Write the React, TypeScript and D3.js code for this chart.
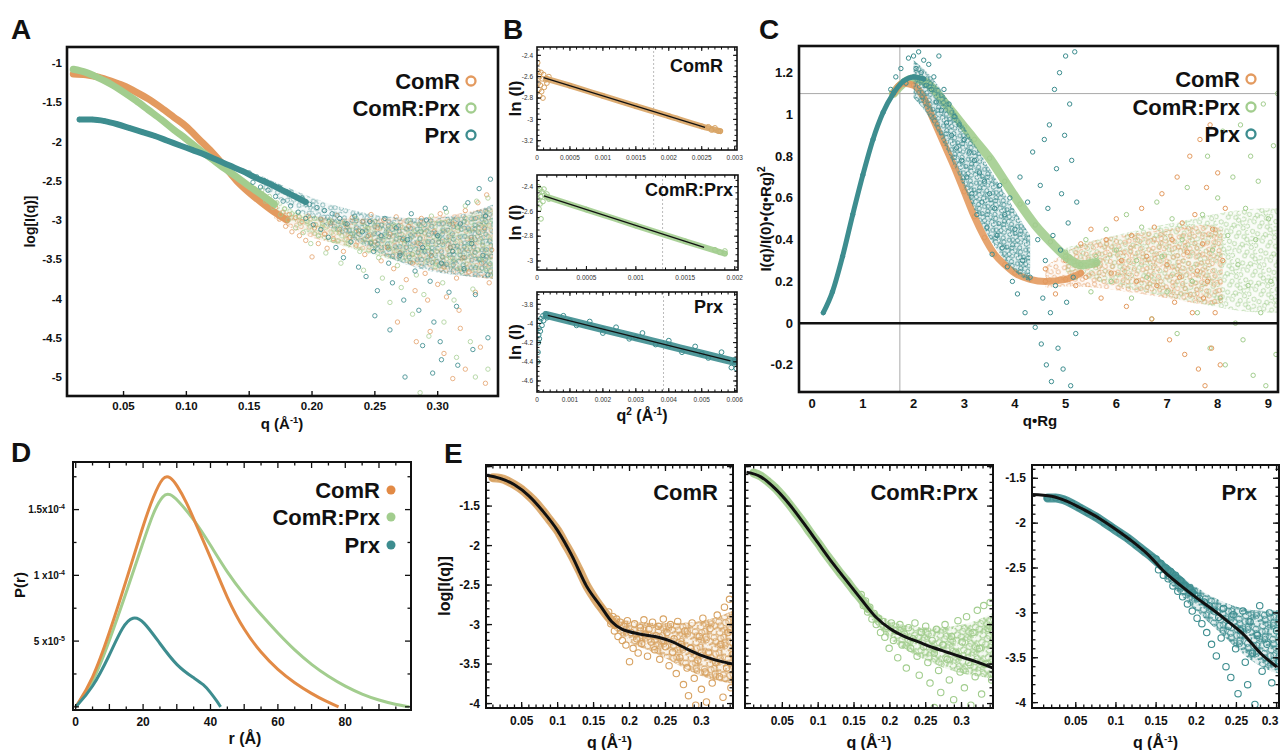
import React from "react";
import * as d3 from "d3";

type Pt = [number, number];

const FONT = "'Liberation Sans', Arial, Helvetica, sans-serif";
const ORANGE = "#E39A5F";
const DORANGE = "#E28A45";
const TAN = "#D8A363";
const GREEN = "#A2CD8E";
const TEAL = "#3D8D8F";

// ---------- data: log I(q) vs q (panels A and E) ----------
const seriesNames = ["ComR", "ComR:Prx", "Prx"];

// dense low-q part of each scattering curve
const comRBand: Pt[] = [[0.010,-1.14],[0.020,-1.15],[0.030,-1.18],[0.040,-1.23],[0.050,-1.29],[0.060,-1.37],[0.070,-1.46],[0.080,-1.57],[0.090,-1.69],[0.100,-1.81],[0.110,-1.97],[0.120,-2.13],[0.130,-2.31],[0.140,-2.50],[0.150,-2.65],[0.160,-2.78],[0.170,-2.90],[0.180,-3.00]];
const comPrxBand: Pt[] = [[0.010,-1.08],[0.020,-1.12],[0.030,-1.19],[0.040,-1.27],[0.050,-1.37],[0.060,-1.48],[0.070,-1.60],[0.080,-1.72],[0.090,-1.85],[0.100,-1.97],[0.110,-2.10],[0.120,-2.22],[0.130,-2.34],[0.140,-2.45],[0.150,-2.57],[0.160,-2.68],[0.170,-2.80]];
const prxBand: Pt[] = [[0.015,-1.72],[0.025,-1.72],[0.035,-1.74],[0.045,-1.78],[0.055,-1.83],[0.065,-1.88],[0.075,-1.93],[0.085,-1.99],[0.095,-2.05],[0.105,-2.11],[0.115,-2.17],[0.125,-2.24],[0.135,-2.31],[0.145,-2.38],[0.155,-2.46],[0.165,-2.53],[0.175,-2.61],[0.185,-2.69],[0.195,-2.77]];

// noisy high-q points
const comRPts: Pt[] = [[0.171,-2.84],[0.174,-2.99],[0.177,-2.90],[0.179,-3.08],[0.182,-2.93],[0.184,-3.15],[0.187,-2.97],[0.190,-3.20],[0.192,-3.02],[0.195,-3.26],[0.197,-2.95],[0.200,-3.47],[0.202,-3.10],[0.205,-3.30],[0.207,-2.99],[0.210,-3.18],[0.212,-3.36],[0.215,-3.04],[0.217,-3.24],[0.220,-2.94],[0.222,-3.12],[0.225,-3.40],[0.227,-3.06],[0.230,-3.22],[0.232,-2.97],[0.235,-3.32],[0.237,-3.14],[0.240,-3.02],[0.242,-3.44],[0.245,-3.20],[0.247,-2.93],[0.250,-3.28],[0.252,-3.10],[0.255,-3.52],[0.257,-3.00],[0.260,-3.35],[0.262,-3.18],[0.265,-3.62],[0.267,-2.96],[0.270,-3.42],[0.272,-3.25],[0.275,-3.76],[0.277,-3.08],[0.280,-3.55],[0.282,-3.90],[0.285,-3.30],[0.287,-2.98],[0.290,-3.68],[0.292,-4.02],[0.295,-3.45],[0.297,-3.15],[0.300,-3.82],[0.302,-2.92],[0.305,-3.60],[0.307,-3.98],[0.310,-3.35],[0.312,-3.05],[0.315,-3.74],[0.317,-4.15],[0.320,-3.48],[0.322,-2.88],[0.325,-3.66],[0.327,-3.25],[0.330,-3.92],[0.332,-2.78],[0.335,-3.55],[0.337,-3.10],[0.339,-2.68],[0.341,-3.80],[0.343,-3.38],[0.268,-4.30],[0.283,-4.55],[0.294,-4.42],[0.305,-4.70],[0.318,-4.38],[0.322,-4.90],[0.334,-4.62],[0.338,-5.08],[0.312,-5.02]];
const comPrxPts: Pt[] = [[0.160,-2.62],[0.163,-2.76],[0.166,-2.70],[0.169,-2.84],[0.172,-2.78],[0.175,-2.93],[0.178,-2.86],[0.181,-3.00],[0.184,-2.92],[0.187,-3.10],[0.190,-2.96],[0.193,-3.16],[0.196,-3.02],[0.199,-3.30],[0.202,-2.98],[0.205,-3.20],[0.208,-3.08],[0.211,-3.42],[0.214,-3.00],[0.217,-3.26],[0.220,-3.12],[0.223,-3.55],[0.226,-3.04],[0.229,-3.30],[0.232,-3.18],[0.235,-2.98],[0.238,-3.40],[0.241,-3.64],[0.244,-3.10],[0.247,-3.28],[0.250,-3.02],[0.253,-3.48],[0.256,-3.74],[0.259,-3.20],[0.262,-3.36],[0.265,-3.06],[0.268,-3.58],[0.271,-3.86],[0.274,-3.26],[0.277,-3.00],[0.280,-3.44],[0.283,-3.70],[0.286,-3.15],[0.289,-3.95],[0.292,-3.35],[0.295,-2.95],[0.298,-3.60],[0.301,-3.22],[0.304,-3.80],[0.307,-2.90],[0.310,-3.48],[0.313,-4.02],[0.316,-3.10],[0.319,-3.66],[0.322,-2.82],[0.325,-3.30],[0.328,-3.88],[0.331,-2.76],[0.334,-3.50],[0.337,-3.05],[0.340,-2.72],[0.342,-3.70],[0.262,-4.05],[0.280,-4.20],[0.293,-4.48],[0.305,-4.30],[0.315,-4.75],[0.326,-4.55],[0.330,-5.00],[0.286,-5.20],[0.340,-4.90]];
const prxPts: Pt[] = [[0.150,-2.40],[0.153,-2.52],[0.156,-2.45],[0.159,-2.58],[0.162,-2.50],[0.165,-2.62],[0.168,-2.54],[0.171,-2.70],[0.174,-2.58],[0.177,-2.76],[0.180,-2.64],[0.183,-2.82],[0.186,-2.70],[0.189,-2.90],[0.192,-2.72],[0.195,-2.98],[0.198,-2.80],[0.201,-3.06],[0.204,-2.84],[0.207,-3.12],[0.210,-2.88],[0.213,-3.22],[0.216,-2.92],[0.219,-3.35],[0.222,-2.98],[0.225,-3.48],[0.228,-3.05],[0.231,-3.28],[0.234,-2.95],[0.237,-3.60],[0.240,-3.15],[0.243,-3.72],[0.246,-3.02],[0.249,-3.40],[0.252,-3.90],[0.255,-3.20],[0.258,-2.98],[0.261,-3.55],[0.264,-3.80],[0.267,-3.10],[0.270,-3.45],[0.273,-4.02],[0.276,-3.25],[0.279,-2.92],[0.282,-3.65],[0.285,-4.15],[0.288,-3.35],[0.291,-3.00],[0.294,-3.78],[0.297,-4.30],[0.300,-3.20],[0.303,-3.55],[0.306,-2.85],[0.309,-3.92],[0.312,-3.40],[0.315,-4.10],[0.318,-3.05],[0.321,-3.62],[0.324,-2.78],[0.327,-3.30],[0.330,-3.95],[0.333,-2.60],[0.336,-3.45],[0.338,-2.95],[0.340,-3.70],[0.342,-2.48],[0.250,-4.22],[0.262,-4.40],[0.274,-5.00],[0.288,-4.60],[0.303,-4.78],[0.302,-4.55],[0.316,-4.85],[0.328,-4.65],[0.296,-4.95],[0.340,-4.50]];

// dense cores of the high-q clouds (q, upper, lower)
const comRCoreQ = [0.17,0.185,0.2,0.225,0.25,0.275,0.3,0.325,0.344];
const comRCoreHi = [-2.86,-2.92,-2.96,-2.98,-2.98,-2.98,-2.96,-2.90,-2.82];
const comRCoreLo = [-2.98,-3.12,-3.24,-3.32,-3.42,-3.55,-3.66,-3.72,-3.75];
const comPrxCoreQ = [0.16,0.18,0.2,0.225,0.25,0.275,0.3,0.325,0.344];
const comPrxCoreHi = [-2.64,-2.84,-2.96,-3.02,-3.04,-3.04,-3.01,-2.94,-2.85];
const comPrxCoreLo = [-2.76,-3.0,-3.2,-3.34,-3.45,-3.55,-3.62,-3.66,-3.68];
const prxCoreQ = [0.16,0.18,0.2,0.225,0.25,0.275,0.3,0.325,0.344];
const prxCoreHi = [-2.44,-2.58,-2.72,-2.85,-2.94,-2.98,-2.98,-2.92,-2.80];
const prxCoreLo = [-2.60,-2.80,-2.98,-3.18,-3.40,-3.58,-3.68,-3.72,-3.75];

// model fits (panel E)
const comRFit: Pt[] = [[0,-1.11],[0.02,-1.15],[0.04,-1.23],[0.06,-1.37],[0.08,-1.57],[0.10,-1.81],[0.12,-2.13],[0.14,-2.51],[0.16,-2.77],[0.175,-2.96],[0.19,-3.06],[0.20,-3.09],[0.22,-3.13],[0.24,-3.16],[0.26,-3.22],[0.28,-3.31],[0.30,-3.39],[0.32,-3.45],[0.344,-3.50]];
const comPrxFit: Pt[] = [[0,-1.07],[0.02,-1.13],[0.04,-1.28],[0.06,-1.48],[0.08,-1.72],[0.10,-1.97],[0.12,-2.22],[0.14,-2.45],[0.16,-2.68],[0.18,-2.90],[0.20,-3.05],[0.22,-3.15],[0.24,-3.22],[0.26,-3.29],[0.28,-3.35],[0.30,-3.41],[0.32,-3.47],[0.344,-3.55]];
const prxFit: Pt[] = [[-0.005,-1.68],[0.02,-1.70],[0.04,-1.76],[0.06,-1.85],[0.08,-1.95],[0.10,-2.07],[0.12,-2.20],[0.14,-2.35],[0.16,-2.54],[0.18,-2.69],[0.20,-2.83],[0.22,-2.96],[0.24,-3.10],[0.26,-3.25],[0.28,-3.45],[0.30,-3.60]];

// ---------- Guinier plots (panel B): ln I vs q^2 ----------
const gComRBand: Pt[] = [[0.00015,-2.62],[0.0005,-2.685],[0.001,-2.78],[0.0015,-2.875],[0.002,-2.97],[0.0025,-3.065],[0.00278,-3.11]];
const gComRNoise: Pt[] = [[0.00001,-2.47],[0.00002,-2.55],[0.00002,-2.66],[0.00003,-2.72],[0.00004,-2.60],[0.00004,-2.78],[0.00005,-2.68],[0.00006,-2.56],[0.00007,-2.74],[0.00008,-2.62],[0.00009,-2.80],[0.0001,-2.58],[0.00011,-2.70],[0.00013,-2.63],[0.00015,-2.66],[0.00018,-2.60],[0.0026,-3.07],[0.00265,-3.10],[0.0027,-3.08],[0.00275,-3.11]];
const gComRFit: Pt[] = [[0.0001,-2.61],[0.00255,-3.075]];
const gComPrxBand: Pt[] = [[0.0001,-2.483],[0.0005,-2.585],[0.001,-2.714],[0.0015,-2.842],[0.0019,-2.94]];
const gComPrxNoise: Pt[] = [[0.00001,-2.40],[0.00001,-2.50],[0.00002,-2.45],[0.00002,-2.58],[0.00003,-2.42],[0.00003,-2.54],[0.00004,-2.48],[0.00004,-2.66],[0.00005,-2.44],[0.00006,-2.52],[0.00007,-2.42],[0.00008,-2.47],[0.0001,-2.46],[0.00012,-2.50],[0.0018,-2.91],[0.00185,-2.93],[0.0019,-2.92]];
const gComPrxFit: Pt[] = [[0.00007,-2.475],[0.00169,-2.891]];
const gPrxBand: Pt[] = [[0.0003,-3.913],[0.001,-3.973],[0.002,-4.058],[0.003,-4.144],[0.004,-4.23],[0.005,-4.316],[0.006,-4.40]];
const gPrxNoise: Pt[] = [[0.00002,-4.40],[0.00003,-4.30],[0.00004,-4.20],[0.00005,-4.12],[0.00006,-4.05],[0.00007,-4.16],[0.00008,-3.98],[0.0001,-4.08],[0.00012,-3.95],[0.00015,-4.02],[0.00018,-3.92],[0.0002,-3.97],[0.00025,-3.90],[0.0003,-3.94],[0.0008,-3.92],[0.0012,-4.02],[0.0016,-3.98],[0.002,-4.10],[0.0024,-4.04],[0.0028,-4.16],[0.0032,-4.10],[0.0036,-4.22],[0.004,-4.18],[0.0044,-4.30],[0.0048,-4.24],[0.0052,-4.36],[0.0056,-4.30],[0.0059,-4.46],[0.006,-4.38],[0.00605,-4.47]];
const gPrxFit: Pt[] = [[0.00033,-3.915],[0.00587,-4.39]];
const guinierLimits = [0.00177, 0.00127, 0.00384];

// ---------- dimensionless Kratky (panel C) ----------
const kPrxRise: Pt[] = [[0.22,0.05],[0.4,0.15],[0.6,0.32],[0.8,0.52],[1.0,0.71],[1.2,0.88],[1.4,1.01],[1.6,1.10],[1.8,1.16],[2.0,1.18],[2.2,1.17]];
const kComRBand: Pt[] = [[1.6,1.10],[1.8,1.15],[2.0,1.14],[2.2,1.08],[2.4,0.97],[2.6,0.86],[2.8,0.75],[3.0,0.63],[3.2,0.51],[3.4,0.41],[3.6,0.33],[3.8,0.28],[4.0,0.24],[4.3,0.21],[4.6,0.20],[5.0,0.21],[5.3,0.24]];
const kComPrxBand: Pt[] = [[1.6,1.10],[1.8,1.15],[2.0,1.17],[2.2,1.16],[2.4,1.12],[2.6,1.06],[2.8,1.00],[3.0,0.94],[3.2,0.88],[3.5,0.79],[3.8,0.68],[4.1,0.57],[4.4,0.47],[4.7,0.39],[5.0,0.32],[5.3,0.28],[5.6,0.29]];
const kPrxPts: Pt[] = [[1.55,1.12],[1.65,1.18],[1.75,1.22],[1.85,1.15],[1.9,1.27],[2.00,1.28],[2.05,1.22],[2.10,1.30],[2.15,1.20],[2.20,1.26],[2.25,1.14],[2.30,1.24],[2.35,1.12],[2.40,1.18],[2.45,1.06],[2.50,1.28],[2.55,1.02],[2.60,1.12],[2.65,0.96],[2.70,1.05],[2.75,0.90],[2.80,0.99],[2.85,0.84],[2.90,0.95],[2.95,0.78],[3.00,0.88],[3.05,0.70],[3.10,0.82],[3.15,0.62],[3.20,0.78],[3.25,0.52],[3.30,0.72],[3.35,0.58],[3.40,0.68],[3.45,0.46],[3.50,0.62],[3.55,0.33],[3.60,0.55],[3.65,0.42],[3.70,0.66],[3.75,0.36],[3.80,0.52],[3.85,0.27],[3.90,0.60],[3.95,0.20],[4.00,0.45],[4.05,0.14],[4.10,0.70],[4.15,0.30],[4.20,0.05],[4.25,0.58],[4.30,0.22],[4.35,0.82],[4.40,-0.02],[4.45,0.40],[4.50,0.66],[4.52,-0.10],[4.55,0.12],[4.58,0.88],[4.60,0.30],[4.62,-0.20],[4.65,0.55],[4.68,0.95],[4.70,0.05],[4.72,-0.28],[4.75,0.42],[4.78,1.12],[4.80,0.18],[4.82,0.74],[4.85,-0.12],[4.88,1.20],[4.90,0.35],[4.92,0.62],[4.95,-0.22],[4.98,0.90],[5.00,1.28],[5.02,0.10],[5.05,0.48],[5.08,1.05],[5.10,-0.30],[5.12,0.78],[5.15,0.22],[5.18,1.30],[5.20,-0.05],[5.22,0.58]];
const kComRPts: Pt[] = [[4.6,0.26],[4.8,0.14],[5.0,0.30],[5.2,0.18],[5.3,0.38],[5.4,0.22],[5.5,0.45],[5.6,0.28],[5.7,0.12],[5.8,0.40],[5.9,0.24],[6.0,0.50],[6.1,0.30],[6.2,0.08],[6.3,0.42],[6.4,0.20],[6.5,0.55],[6.6,0.32],[6.7,0.02],[6.75,0.46],[6.8,0.18],[6.9,0.62],[7.0,0.28],[7.05,-0.08],[7.1,0.40],[7.15,0.10],[7.2,0.70],[7.25,0.22],[7.3,0.48],[7.35,-0.15],[7.4,0.34],[7.45,0.80],[7.5,0.05],[7.55,0.52],[7.6,0.25],[7.62,-0.22],[7.65,0.88],[7.7,0.38],[7.72,0.12],[7.75,-0.30],[7.78,0.65],[7.8,0.20],[7.85,0.95],[7.88,-0.12],[7.9,0.45],[7.95,0.05],[8.0,0.72],[8.05,-0.20],[8.1,0.30],[8.15,0.55]];
const kComPrxPts: Pt[] = [[5.0,0.34],[5.2,0.22],[5.4,0.40],[5.5,0.15],[5.6,0.32],[5.8,0.45],[5.9,0.20],[6.0,0.35],[6.2,0.52],[6.3,0.12],[6.4,0.30],[6.5,0.46],[6.6,0.22],[6.7,0.02],[6.8,0.58],[6.9,0.32],[7.0,0.15],[7.1,0.50],[7.2,-0.05],[7.3,0.40],[7.4,0.65],[7.5,0.20],[7.6,0.05],[7.7,0.52],[7.8,0.80],[7.85,-0.12],[7.9,0.35],[8.0,0.60],[8.05,0.12],[8.1,0.92],[8.15,-0.20],[8.2,0.42],[8.3,0.70],[8.35,0.00],[8.4,0.28],[8.45,0.95],[8.5,-0.08],[8.55,0.55],[8.6,0.18],[8.65,0.80],[8.7,-0.25],[8.75,0.40],[8.8,0.68],[8.85,0.05],[8.9,1.05],[8.95,-0.30],[9.0,0.50],[9.05,0.20],[9.1,0.85],[9.15,-0.15],[9.18,1.10]];
const kPrxCoreU = [2.0,2.3,2.6,2.9,3.2,3.5,3.8,4.1,4.3];
const kPrxCoreHi = [1.26,1.20,1.10,0.98,0.86,0.74,0.62,0.50,0.42];
const kPrxCoreLo = [1.08,1.00,0.86,0.70,0.54,0.40,0.30,0.22,0.20];
const kComRCoreU = [4.6,5.2,6.0,7.0,7.8,8.1];
const kComRCoreHi = [0.27,0.38,0.42,0.45,0.48,0.45];
const kComRCoreLo = [0.17,0.18,0.16,0.12,0.08,0.10];
const kComPrxCoreU = [5.0,5.6,6.5,7.5,8.5,9.2];
const kComPrxCoreHi = [0.36,0.40,0.45,0.50,0.55,0.55];
const kComPrxCoreLo = [0.24,0.20,0.15,0.10,0.05,0.05];
const guinierPeak: Pt = [1.73, 1.1];

// ---------- pair distance distribution (panel D), P(r) in 1e-5 ----------
const prComR: Pt[] = [[0,0],[5,2.0],[10,5.6],[15,9.6],[20,13.8],[23,16.0],[26,17.6],[28,17.5],[30,16.9],[33,15.5],[35,14.3],[40,11.4],[45,8.2],[50,5.8],[55,4.1],[60,2.8],[65,1.8],[70,1.0],[74,0.45],[78,0]];
const prComPrx: Pt[] = [[0,0],[5,1.7],[10,5.0],[15,8.7],[20,12.5],[23,14.8],[26,16.2],[28,16.2],[30,15.8],[35,14.3],[40,12.3],[45,10.2],[50,8.5],[55,7.0],[60,5.6],[65,4.3],[70,3.2],[75,2.3],[80,1.55],[85,0.95],[90,0.5],[95,0.18],[99,0]];
const prPrx: Pt[] = [[0,0],[5,1.4],[10,3.9],[14,6.2],[17,6.9],[20,6.6],[25,4.8],[30,3.1],[35,2.2],[38,1.7],[40,1.1],[42,0.4],[43,0]];

// ---------- tick labels ----------
const aXTicks = [0.05, 0.1, 0.15, 0.2, 0.25, 0.3];
const aYTicks = [-1, -1.5, -2, -2.5, -3, -3.5, -4, -4.5, -5];
const b1XTicks = ["0","0.0005","0.001","0.0015","0.002","0.0025","0.003"];
const b2XTicks = ["0","0.0005","0.001","0.0015","0.002"];
const b3XTicks = ["0","0.001","0.002","0.003","0.004","0.005","0.006"];
const b1YTicks = [-2.4, -2.6, -2.8, -3, -3.2];
const b2YTicks = [-2.4, -2.6, -2.8, -3];
const b3YTicks = [-3.8, -4, -4.2, -4.4, -4.6];
const cXTicks = [0, 1, 2, 3, 4, 5, 6, 7, 8, 9];
const cYTicks = [-0.2, 0, 0.2, 0.4, 0.6, 0.8, 1, 1.2];
const dXTicks = [0, 20, 40, 60, 80];
const dYTicks: [number, string, string][] = [[5, "5 x10", "-5"], [10, "1 x10", "-4"], [15, "1.5x10", "-4"]];
const eXTicks = ["0.05", "0.1", "0.15", "0.2", "0.25", "0.3"];
const eYTicks = [-1.5, -2, -2.5, -3, -3.5, -4];

type Box = { l: number; t: number; r: number; b: number };

// texture of overlapping open circles, used to fill the dense part of a cloud
const texture: Pt[] = [[1.5,2.5],[9,1],[15.5,5],[21,2.5],[4,9],[12,7.5],[18.5,10.5],[23,8],[1,15],[7.5,13],[14,16.5],[20,14],[5.5,19],[11,18.5],[17,19.5],[22.5,18]];
function CirclePattern({ id, color, s, r, sw, op, rot }: { id: string; color: string; s: number; r: number; sw: number; op: number; rot: number }) {
  return (
    <pattern id={id} width={24 * s} height={20 * s} patternUnits="userSpaceOnUse" patternTransform={`rotate(${rot})`}>
      {texture.map((p, i) => <circle key={i} cx={p[0] * s} cy={p[1] * s} r={r} fill="none" stroke={color} strokeWidth={sw} opacity={op} />)}
    </pattern>
  );
}

function Dots({ pts, x, y, color, r, sw = 1, op = 1 }: any) {
  return (
    <g fill="none" stroke={color} strokeWidth={sw} opacity={op}>
      {pts.map((p: Pt, i: number) => <circle key={i} cx={x(p[0])} cy={y(p[1])} r={r} />)}
    </g>
  );
}

function Band({ pts, x, y, color, w, op = 1 }: any) {
  const g = d3.line<Pt>().x(d => x(d[0])).y(d => y(d[1])).curve(d3.curveMonotoneX);
  return <path d={g(pts) || ""} fill="none" stroke={color} strokeWidth={w} strokeLinecap="round" strokeLinejoin="round" opacity={op} />;
}

function Core({ u, hi, lo, x, y, color, pat, op }: any) {
  const g = d3.area<number>().x((_, i) => x(u[i])).y0((_, i) => y(lo[i])).y1((_, i) => y(hi[i])).curve(d3.curveBasis);
  const d = g(u) || "";
  return (
    <g>
      <path d={d} fill={color} opacity={op} />
      <path d={d} fill={`url(#${pat})`} />
    </g>
  );
}

function Ticks({ box, x, y, xMaj = [], xMin = [], yMaj = [], yMin = [], sides, maj = 6, min = 3, w = 1.2 }: any) {
  const segs: number[][] = [];
  const add = (vals: number[], len: number, isX: boolean) => {
    vals.forEach(v => {
      if (isX) {
        const px = x(v);
        if (px < box.l + 1 || px > box.r - 1) return;
        if (sides.includes("b")) segs.push([px, box.b, px, box.b - len]);
        if (sides.includes("t")) segs.push([px, box.t, px, box.t + len]);
      } else {
        const py = y(v);
        if (py < box.t + 1 || py > box.b - 1) return;
        if (sides.includes("l")) segs.push([box.l, py, box.l + len, py]);
        if (sides.includes("r")) segs.push([box.r, py, box.r - len, py]);
      }
    });
  };
  add(xMaj, maj, true); add(xMin, min, true); add(yMaj, maj, false); add(yMin, min, false);
  return <g stroke="#111" strokeWidth={w}>{segs.map((s, i) => <line key={i} x1={s[0]} y1={s[1]} x2={s[2]} y2={s[3]} />)}</g>;
}

function Frame({ box, w = 2 }: { box: Box; w?: number }) {
  return <rect x={box.l} y={box.t} width={box.r - box.l} height={box.b - box.t} fill="none" stroke="#111" strokeWidth={w} />;
}

function Clip({ id, box }: { id: string; box: Box }) {
  return <clipPath id={id}><rect x={box.l} y={box.t} width={box.r - box.l} height={box.b - box.t} /></clipPath>;
}

function QTitle({ x, y, size }: { x: number; y: number; size: number }) {
  return (
    <text x={x} y={y} textAnchor="middle" fontSize={size} fontWeight="bold">
      q (Å<tspan fontSize={size * 0.62} dy={-size * 0.38}>-1</tspan><tspan dy={size * 0.38}>)</tspan>
    </text>
  );
}

function Legend({ xr, cy, colors, filled }: { xr: number; cy: number[]; colors: string[]; filled: boolean }) {
  return (
    <g>
      {seriesNames.map((s, i) => (
        <g key={s}>
          <text x={xr} y={cy[i] + 8} textAnchor="end" fontSize={22} fontWeight="bold">{s}</text>
          {filled
            ? <circle cx={xr + 11} cy={cy[i]} r={4.5} fill={colors[i]} />
            : <circle cx={xr + 11} cy={cy[i]} r={4.5} fill="none" stroke={colors[i]} strokeWidth={2.3} />}
        </g>
      ))}
    </g>
  );
}

export default function App() {
  // ---------------- panel A ----------------
  const boxA: Box = { l: 67, t: 47, r: 498, b: 396 };
  const ax = d3.scaleLinear().domain([0.005, 0.348]).range([boxA.l, boxA.r]);
  const ay = d3.scaleLinear().domain([-5.242, -0.796]).range([boxA.b, boxA.t]);

  // ---------------- panel B ----------------
  const bPanels = [
    { box: { l: 537, t: 47, r: 737, b: 150 }, xd: [0, 0.003035], yd: [-3.287, -2.322], band: gComRBand, noise: gComRNoise, fit: gComRFit, color: TAN, title: "ComR", tx: 723, ty: 72, xt: b1XTicks, yt: b1YTicks, xStep: 0.0001, lim: guinierLimits[0] },
    { box: { l: 537, t: 175, r: 738, b: 270 }, xd: [0, 0.002033], yd: [-3.073, -2.306], band: gComPrxBand, noise: gComPrxNoise, fit: gComPrxFit, color: GREEN, title: "ComR:Prx", tx: 733, ty: 196, xt: b2XTicks, yt: b2YTicks, xStep: 0.0001, lim: guinierLimits[1] },
    { box: { l: 537, t: 292, r: 737, b: 392 }, xd: [0, 0.00607], yd: [-4.715, -3.672], band: gPrxBand, noise: gPrxNoise, fit: gPrxFit, color: TEAL, title: "Prx", tx: 723, ty: 313, xt: b3XTicks, yt: b3YTicks, xStep: 0.0002, lim: guinierLimits[2] },
  ];

  // ---------------- panel C ----------------
  const boxC: Box = { l: 799, t: 46, r: 1278, b: 392 };
  const cx = d3.scaleLinear().domain([-0.26, 9.19]).range([boxC.l, boxC.r]);
  const cy = d3.scaleLinear().domain([-0.33, 1.328]).range([boxC.b, boxC.t]);

  // ---------------- panel D ----------------
  const boxD: Box = { l: 73, t: 462, r: 411, b: 710 };
  const dx = d3.scaleLinear().domain([-0.8, 99.5]).range([boxD.l, boxD.r]);
  const dy = d3.scaleLinear().domain([-0.24, 18.62]).range([boxD.b, boxD.t]);
  const prLine = d3.line<Pt>().x(d => dx(d[0])).y(d => dy(d[1])).curve(d3.curveBasis);

  // ---------------- panel E ----------------
  const ePanels = [
    { box: { l: 486, t: 465, r: 733, b: 708 }, xd: [0.0004, 0.3439], yd: [-4.056, -0.98], band: comRBand, pts: comRPts, core: [comRCoreQ, comRCoreHi, comRCoreLo], fit: comRFit, color: TAN, pat: "pTanE", title: "ComR", tx: 718, labels: true },
    { box: { l: 745, t: 465, r: 993, b: 708 }, xd: [-0.0021, 0.3439], yd: [-4.056, -0.98], band: comPrxBand, pts: comPrxPts, core: [comPrxCoreQ, comPrxCoreHi, comPrxCoreLo], fit: comPrxFit, color: GREEN, pat: "pGreenE", title: "ComR:Prx", tx: 978, labels: false },
    { box: { l: 1032, t: 465, r: 1279, b: 708 }, xd: [-0.0045, 0.303], yd: [-4.06, -1.352], band: prxBand, pts: prxPts, core: [prxCoreQ, prxCoreHi, prxCoreLo], fit: prxFit, color: TEAL, pat: "pTealE", title: "Prx", tx: 1257, labels: true },
  ];

  return (
    <svg width={1282} height={750} style={{ position: "absolute", left: 0, top: 0, background: "#fff" }} fontFamily={FONT} fill="#111">
      <defs>
        <Clip id="clipA" box={boxA} />
        <Clip id="clipC" box={boxC} />
        <Clip id="clipD" box={boxD} />
        {bPanels.map((p, i) => <Clip key={i} id={"clipB" + i} box={p.box} />)}
        {ePanels.map((p, i) => <Clip key={i} id={"clipE" + i} box={p.box} />)}
        <CirclePattern id="pOrange" color={ORANGE} s={1.05} r={2.1} sw={0.9} op={0.75} rot={17} />
        <CirclePattern id="pGreen" color={GREEN} s={1.05} r={2.1} sw={0.9} op={0.8} rot={-23} />
        <CirclePattern id="pTeal" color={TEAL} s={1.05} r={2.1} sw={0.9} op={0.7} rot={31} />
        <CirclePattern id="pTealC" color={TEAL} s={0.8} r={2.1} sw={0.95} op={0.95} rot={31} />
        <CirclePattern id="pTanE" color={TAN} s={0.82} r={3} sw={1} op={0.9} rot={17} />
        <CirclePattern id="pGreenE" color={GREEN} s={0.82} r={3} sw={1} op={0.9} rot={-23} />
        <CirclePattern id="pTealE" color={TEAL} s={0.82} r={3} sw={1} op={0.9} rot={31} />
      </defs>

      {/* panel letters */}
      <g fontSize={28} fontWeight="bold">
        <text x={11} y={39}>A</text>
        <text x={503} y={39}>B</text>
        <text x={759} y={39}>C</text>
        <text x={11} y={462}>D</text>
        <text x={444} y={463}>E</text>
      </g>

      {/* ================= A ================= */}
      <g clipPath="url(#clipA)">
        <Core u={comRCoreQ} hi={comRCoreHi} lo={comRCoreLo} x={ax} y={ay} color={ORANGE} pat="pOrange" op={0.06} />
        <Core u={comPrxCoreQ} hi={comPrxCoreHi} lo={comPrxCoreLo} x={ax} y={ay} color={GREEN} pat="pGreen" op={0.06} />
        <Band pts={comRBand} x={ax} y={ay} color={ORANGE} w={7} />
        <Dots pts={comRPts} x={ax} y={ay} color={ORANGE} r={2.2} op={0.75} />
        <Band pts={comPrxBand} x={ax} y={ay} color={GREEN} w={7} />
        <Dots pts={comPrxPts} x={ax} y={ay} color={GREEN} r={2.2} op={0.75} />
        <Core u={prxCoreQ} hi={prxCoreHi} lo={prxCoreLo} x={ax} y={ay} color={TEAL} pat="pTeal" op={0.05} />
        <Band pts={prxBand} x={ax} y={ay} color={TEAL} w={6} />
        <Dots pts={prxBand} x={ax} y={ay} color={TEAL} r={2.2} />
        <Dots pts={prxPts} x={ax} y={ay} color={TEAL} r={2.2} op={0.85} />
      </g>
      <Frame box={boxA} w={2.6} />
      <Ticks box={boxA} x={ax} y={ay} xMaj={aXTicks} sides="b" maj={5} w={1.4} />
      <g fontSize={11.5} fontWeight="bold">
        {aYTicks.map(v => <text key={v} x={62} y={ay(v)} dy="0.35em" textAnchor="end">{v}</text>)}
        {aXTicks.map(v => <text key={v} x={ax(v)} y={410} textAnchor="middle">{v.toFixed(2)}</text>)}
      </g>
      <text transform={`translate(35,${(boxA.t + boxA.b) / 2}) rotate(-90)`} textAnchor="middle" fontSize={14} fontWeight="bold">log[I(q)]</text>
      <QTitle x={282} y={429} size={15} />
      <Legend xr={460} cy={[81, 108, 135]} colors={[ORANGE, GREEN, TEAL]} filled={false} />

      {/* ================= B ================= */}
      {bPanels.map((p, i) => {
        const x = d3.scaleLinear().domain(p.xd).range([p.box.l, p.box.r]);
        const y = d3.scaleLinear().domain(p.yd).range([p.box.b, p.box.t]);
        const xMaj = p.xt.map(Number);
        const xMin = d3.range(0, p.xd[1], p.xStep);
        const yMin = d3.range(Math.ceil(p.yd[0] * 20) / 20, p.yd[1], 0.05);
        const fitLine = d3.line<Pt>().x(d => x(d[0])).y(d => y(d[1]));
        return (
          <g key={i}>
            <g clipPath={`url(#clipB${i})`}>
              <line x1={x(p.lim)} x2={x(p.lim)} y1={p.box.t} y2={p.box.b} stroke="#bbb" strokeWidth={1} strokeDasharray="2,2" />
              <Band pts={p.band} x={x} y={y} color={p.color} w={i === 2 ? 8 : 6} op={0.9} />
              <Dots pts={p.band} x={x} y={y} color={p.color} r={2.4} />
              <Dots pts={p.noise} x={x} y={y} color={p.color} r={2.4} />
              <path d={fitLine(p.fit) || ""} stroke="#111" strokeWidth={1.3} fill="none" />
            </g>
            <Frame box={p.box} w={1.6} />
            <Ticks box={p.box} x={x} y={y} xMaj={xMaj} xMin={xMin} yMaj={p.yt} yMin={yMin} sides="tblr" maj={4} min={2.5} w={1} />
            <text x={p.tx} y={p.ty} textAnchor="end" fontSize={18} fontWeight="bold">{p.title}</text>
            <g fontSize={6.5} fill="#333">
              {p.yt.map(v => <text key={v} x={p.box.l - 4} y={y(v)} dy="0.35em" textAnchor="end">{v}</text>)}
              {p.xt.map(v => <text key={v} x={x(Number(v))} y={p.box.b + 10} textAnchor="middle">{v}</text>)}
            </g>
            <text transform={`translate(521,${(p.box.t + p.box.b) / 2}) rotate(-90)`} textAnchor="middle" fontSize={17} fontWeight="bold">ln (I)</text>
          </g>
        );
      })}
      <text x={642} y={421} textAnchor="middle" fontSize={16} fontWeight="bold">
        q<tspan fontSize={10} dy={-6}>2</tspan><tspan dy={6}> (Å</tspan><tspan fontSize={10} dy={-6}>-1</tspan><tspan dy={6}>)</tspan>
      </text>

      {/* ================= C ================= */}
      <g clipPath="url(#clipC)">
        <line x1={boxC.l} x2={boxC.r} y1={cy(guinierPeak[1])} y2={cy(guinierPeak[1])} stroke="#aaa" strokeWidth={1} />
        <line x1={cx(guinierPeak[0])} x2={cx(guinierPeak[0])} y1={boxC.t} y2={boxC.b} stroke="#aaa" strokeWidth={1} />
        <Core u={kComPrxCoreU} hi={kComPrxCoreHi} lo={kComPrxCoreLo} x={cx} y={cy} color={GREEN} pat="pGreen" op={0.06} />
        <Core u={kComRCoreU} hi={kComRCoreHi} lo={kComRCoreLo} x={cx} y={cy} color={ORANGE} pat="pOrange" op={0.05} />
        <Dots pts={kComPrxPts} x={cx} y={cy} color={GREEN} r={2.2} />
        <Dots pts={kComRPts} x={cx} y={cy} color={ORANGE} r={2.2} />
        <Band pts={kComPrxBand} x={cx} y={cy} color={GREEN} w={9} op={0.9} />
        <Dots pts={kComPrxBand} x={cx} y={cy} color={GREEN} r={2.2} />
        <Band pts={kComRBand} x={cx} y={cy} color={ORANGE} w={7} op={0.9} />
        <Dots pts={kComRBand} x={cx} y={cy} color={ORANGE} r={2.2} />
        <Core u={kPrxCoreU} hi={kPrxCoreHi} lo={kPrxCoreLo} x={cx} y={cy} color={TEAL} pat="pTealC" op={0.12} />
        <Dots pts={kPrxPts} x={cx} y={cy} color={TEAL} r={2.2} />
        <Band pts={kPrxRise} x={cx} y={cy} color={TEAL} w={5} />
        <Dots pts={kPrxRise} x={cx} y={cy} color={TEAL} r={2.2} />
        <line x1={boxC.l} x2={boxC.r} y1={cy(0)} y2={cy(0)} stroke="#111" strokeWidth={2.5} />
      </g>
      <Frame box={boxC} w={2.6} />
      <g fontSize={13} fontWeight="bold">
        {cYTicks.map(v => <text key={v} x={793} y={cy(v)} dy="0.35em" textAnchor="end">{v}</text>)}
        {cXTicks.map(v => <text key={v} x={cx(v)} y={408} textAnchor="middle">{v}</text>)}
      </g>
      <text x={1040} y={426} textAnchor="middle" fontSize={15} fontWeight="bold">q•Rg</text>
      <text transform={`translate(771,${(boxC.t + boxC.b) / 2}) rotate(-90)`} textAnchor="middle" fontSize={15} fontWeight="bold">
        I(q)/I(0)•(q•Rg)<tspan fontSize={10} dy={-6}>2</tspan>
      </text>
      <Legend xr={1240} cy={[79, 107, 134]} colors={[ORANGE, GREEN, TEAL]} filled={false} />

      {/* ================= D ================= */}
      <g clipPath="url(#clipD)" fill="none" strokeWidth={3}>
        <path d={prLine(prComPrx) || ""} stroke={GREEN} />
        <path d={prLine(prComR) || ""} stroke={DORANGE} />
        <path d={prLine(prPrx) || ""} stroke={TEAL} />
      </g>
      <Frame box={boxD} w={2} />
      <Ticks box={boxD} x={dx} y={dy} xMaj={d3.range(0, 100, 10)} xMin={d3.range(5, 100, 10)} yMaj={d3.range(0, 19, 5)} yMin={d3.range(2.5, 19, 5)} sides="tblr" maj={6} min={3.5} w={1.3} />
      <g fontSize={10} fontWeight="bold">
        {dYTicks.map(t => (
          <text key={t[0]} x={65} y={dy(t[0])} dy="0.35em" textAnchor="end">
            {t[1]}<tspan fontSize={7} dy={-4}>{t[2]}</tspan>
          </text>
        ))}
      </g>
      <g fontSize={12} fontWeight="bold">
        {dXTicks.map(v => <text key={v} x={dx(v)} y={726} textAnchor="middle">{v}</text>)}
      </g>
      <text x={245} y={744} textAnchor="middle" fontSize={16} fontWeight="bold">r (Å)</text>
      <text transform={`translate(25,585) rotate(-90)`} textAnchor="middle" fontSize={15} fontWeight="bold">P(r)</text>
      <Legend xr={380} cy={[490, 517, 545]} colors={[DORANGE, GREEN, TEAL]} filled={true} />

      {/* ================= E ================= */}
      {ePanels.map((p, i) => {
        const x = d3.scaleLinear().domain(p.xd).range([p.box.l, p.box.r]);
        const y = d3.scaleLinear().domain(p.yd).range([p.box.b, p.box.t]);
        const fitLine = d3.line<Pt>().x(d => x(d[0])).y(d => y(d[1])).curve(d3.curveMonotoneX);
        const xMaj = eXTicks.map(Number);
        return (
          <g key={i}>
            <g clipPath={`url(#clipE${i})`}>
              <Core u={p.core[0]} hi={p.core[1]} lo={p.core[2]} x={x} y={y} color={p.color} pat={p.pat} op={0.12} />
              <Band pts={p.band} x={x} y={y} color={p.color} w={9} op={0.9} />
              <Dots pts={p.band} x={x} y={y} color={p.color} r={3} sw={1.1} />
              <Dots pts={p.pts} x={x} y={y} color={p.color} r={3.2} sw={1.1} />
              <path d={fitLine(p.fit) || ""} stroke="#111" strokeWidth={3} fill="none" />
            </g>
            <Frame box={p.box} w={2} />
            <Ticks box={p.box} x={x} y={y} xMaj={xMaj} xMin={d3.range(0.01, 0.35, 0.01)} yMaj={d3.range(-4, -0.9, 0.5)} yMin={d3.range(-4, -0.9, 0.1)} sides="tblr" maj={6} min={3.5} w={1.3} />
            <text x={p.tx} y={500} textAnchor="end" fontSize={22} fontWeight="bold">{p.title}</text>
            <g fontSize={12} fontWeight="bold">
              {p.labels && eYTicks.filter(v => v > p.yd[0] && v < p.yd[1]).map(v => <text key={v} x={p.box.l - 6} y={y(v)} dy="0.35em" textAnchor="end">{v}</text>)}
              {eXTicks.map(v => <text key={v} x={Math.min(x(Number(v)), 1270)} y={725} textAnchor="middle">{v}</text>)}
            </g>
            <QTitle x={(p.box.l + p.box.r) / 2} y={748} size={16} />
          </g>
        );
      })}
      <text transform={`translate(450,586) rotate(-90)`} textAnchor="middle" fontSize={16} fontWeight="bold">log[I(q)]</text>
    </svg>
  );
}
